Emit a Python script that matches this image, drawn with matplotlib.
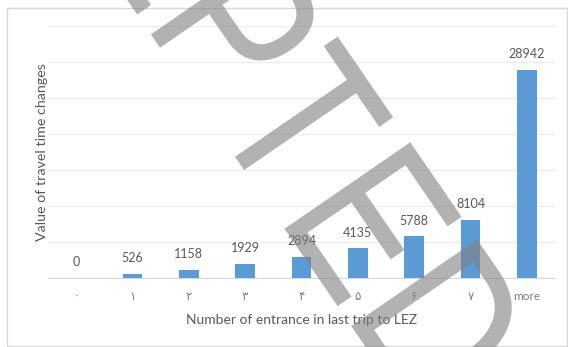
import matplotlib
matplotlib.use("Agg")
import matplotlib.pyplot as plt
from matplotlib.patches import Rectangle, PathPatch
from matplotlib.textpath import TextPath
from matplotlib.font_manager import FontProperties
from matplotlib.transforms import Affine2D

categories = ["۰", "۱", "۲", "۳", "۴", "۵", "۶", "۷", "more"]
values = [0, 526, 1158, 1929, 2894, 4135, 5788, 8104, 28942]
xlabel = "Number of entrance in last trip to LEZ"
ylabel = "Value of travel time changes"
watermark = "ACCEPTED"

plt.rcParams["font.family"] = ["Lato", "DejaVu Sans"]
text_grey = "#595959"
W, H = 568, 347

fig = plt.figure(figsize=(W/100, H/100), dpi=100)

# outer chart frame
fig.patches.append(Rectangle((7/W, 1/H), 560/W, 338/H,
	transform=fig.transFigure, fill=False, edgecolor="#d9d9d9", linewidth=1))

ax = fig.add_axes([48/W, 1-278/H, 507/W, 252/H])
x = range(len(categories))
ax.bar(x, values, width=0.35, color="#5b9bd5", zorder=3)

for xi, v in zip(x, values):
	ax.annotate(str(v), xy=(xi, v), xytext=(0, 7), textcoords="offset points",
		ha="center", va="bottom", fontsize=9, color=text_grey)

ax.set_xlim(-0.5, len(categories)-0.5)
ax.set_ylim(0, 35000)
ax.set_yticks(range(0, 35001, 5000))
ax.set_yticklabels([])
ax.tick_params(axis="y", length=0, pad=0)
ax.set_xticks(list(x))
ax.set_xticklabels(categories, fontsize=8.5, color="#7f7f7f")
ax.tick_params(axis="x", length=0, pad=9)
ax.grid(axis="y", color="#ececec", linewidth=1, zorder=0)
for s in ["top", "right", "left"]:
	ax.spines[s].set_visible(False)
ax.spines["bottom"].set_color("#d9d9d9")

ax.set_xlabel(xlabel, fontsize=10, color=text_grey, labelpad=9)
ax.set_ylabel(ylabel, fontsize=10.3, color=text_grey, labelpad=0)

# watermark, one letter at a time (pixel coords, y down)
prop = FontProperties(family="Liberation Sans")
for i, ch in enumerate(watermark):
	px = 243 + 66.8*(i-5.5)
	py = 168.5 + 97.2*(i-5.5)
	path = TextPath((0, 0), ch, size=222, prop=prop)
	tr = Affine2D().scale(0.78, 1).rotate_deg(-55.5).translate(px, H-py)
	fig.add_artist(PathPatch(path, transform=tr, facecolor="#808080",
		edgecolor="none", alpha=0.6, zorder=10))

fig.savefig("out.png", dpi=100)
